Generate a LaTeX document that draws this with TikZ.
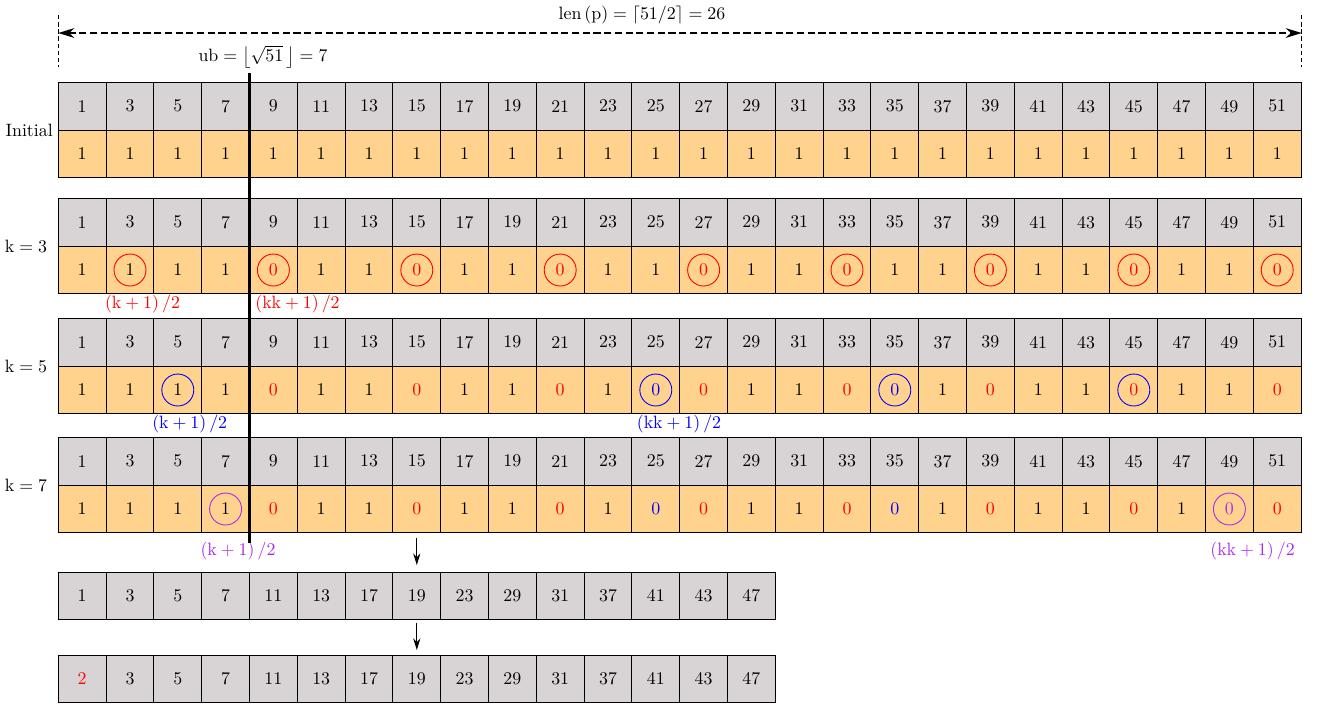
\documentclass[tikz,border=0pt]{standalone}
\usetikzlibrary{arrows.meta}
\definecolor{cellgray}{RGB}{216,211,212}
\definecolor{cellorange}{RGB}{255,211,142}
\definecolor{kpurple}{RGB}{170,40,240}
\begin{document}
\begin{tikzpicture}[x=0.56pt,y=-0.56pt,
  cell/.style={draw=black,line width=0.5pt,minimum width=26.77pt,minimum height=26.77pt,inner sep=0pt,outer sep=0pt,anchor=center},
  graycell/.style={cell,fill=cellgray},
  orangecell/.style={cell,fill=cellorange},
  ring/.style={circle,draw=#1,minimum size=17.9pt,inner sep=0pt,line width=0.5pt},
  rowlabel/.style={inner sep=0pt,anchor=center},
  dimtick/.style={line width=0.4pt,dash pattern=on 2.5pt off 1.5pt},
  dimline/.style={line width=0.8pt,dash pattern=on 4pt off 2pt,{Stealth[length=9pt,width=5.5pt]}-{Stealth[length=9pt,width=5.5pt]}},
  arr/.style={line width=0.7pt,-{Stealth[length=6.5pt,width=4pt]}},
  ubline/.style={line width=1.7pt}]
\useasboundingbox (0,0) rectangle (1322,718);

% dimension line
\coordinate (dl1) at (58.3,15);
\coordinate (dl2) at (58.3,67);
\coordinate (dr1) at (1301.7,15);
\coordinate (dr2) at (1301.7,67);
\coordinate (da) at (58.3,33);
\coordinate (db) at (1301.7,33);
\draw[dimtick] (dl1) -- (dl2);
\draw[dimtick] (dr1) -- (dr2);
\draw[dimline] (da) -- (db);
\node[rowlabel] (lenlab) at (642,15.5) {$\mathrm{len}\left(\mathrm{p}\right)=\left\lceil 51/2\right\rceil=26$};
\node[rowlabel] (ublab) at (263,57) {$\mathrm{ub}=\left\lfloor\sqrt{51}\,\right\rfloor=7$};

% gray rows
\foreach \yy/\r in {106.2/1,222.2/2,342.2/3,461.2/4}{
  \foreach \v [count=\i from 0] in {1,3,...,51}{
    \node[graycell] (g\r-\i) at ({58.3+47.8*(\i+0.5)},\yy) {\v};
  }
}

% orange rows
\foreach \v/\c [count=\i from 0] in {1/black,1/black,1/black,1/black,1/black,1/black,1/black,1/black,1/black,1/black,1/black,1/black,1/black,1/black,1/black,1/black,1/black,1/black,1/black,1/black,1/black,1/black,1/black,1/black,1/black,1/black}{
  \node[orangecell,text=\c] (o1-\i) at ({58.3+47.8*(\i+0.5)},154) {\v};
}
\foreach \v/\c [count=\i from 0] in {1/black,1/black,1/black,1/black,0/red,1/black,1/black,0/red,1/black,1/black,0/red,1/black,1/black,0/red,1/black,1/black,0/red,1/black,1/black,0/red,1/black,1/black,0/red,1/black,1/black,0/red}{
  \node[orangecell,text=\c] (o2-\i) at ({58.3+47.8*(\i+0.5)},270) {\v};
}
\foreach \v/\c [count=\i from 0] in {1/black,1/black,1/black,1/black,0/red,1/black,1/black,0/red,1/black,1/black,0/red,1/black,0/blue,0/red,1/black,1/black,0/red,0/blue,1/black,0/red,1/black,1/black,0/red,1/black,1/black,0/red}{
  \node[orangecell,text=\c] (o3-\i) at ({58.3+47.8*(\i+0.5)},390) {\v};
}
\foreach \v/\c [count=\i from 0] in {1/black,1/black,1/black,1/black,0/red,1/black,1/black,0/red,1/black,1/black,0/red,1/black,0/blue,0/red,1/black,1/black,0/red,0/blue,1/black,0/red,1/black,1/black,0/red,1/black,0/kpurple,0/red}{
  \node[orangecell,text=\c] (o4-\i) at ({58.3+47.8*(\i+0.5)},509) {\v};
}

% circles
\foreach \i in {1,4,7,10,13,16,19,22,25}{ \node[ring=red] (c2-\i) at (o2-\i) {}; }
\foreach \i in {2,12,17,22}{ \node[ring=blue] (c3-\i) at (o3-\i) {}; }
\foreach \i in {3,24}{ \node[ring=kpurple] (c4-\i) at (o4-\i) {}; }

% row labels
\node[rowlabel] (lab1) at (29.2,130) {Initial};
\node[rowlabel] (lab2) at (26,246.5) {$\mathrm{k}=3$};
\node[rowlabel] (lab3) at (26,366) {$\mathrm{k}=5$};
\node[rowlabel] (lab4) at (26,485) {$\mathrm{k}=7$};

% index labels
\node[rowlabel,text=red] (k2a) at (142.5,304.5) {$\left(\mathrm{k}+1\right)/2$};
\node[rowlabel,text=red] (k2b) at (297.5,304.5) {$\left(\mathrm{kk}+1\right)/2$};
\node[rowlabel,text=blue] (k3a) at (189.7,424.5) {$\left(\mathrm{k}+1\right)/2$};
\node[rowlabel,text=blue] (k3b) at (679,424.5) {$\left(\mathrm{kk}+1\right)/2$};
\node[rowlabel,text=kpurple] (k4a) at (238,551.5) {$\left(\mathrm{k}+1\right)/2$};
\node[rowlabel,text=kpurple] (k4b) at (1252.5,551.5) {$\left(\mathrm{kk}+1\right)/2$};

% ub line
\coordinate (ubtop) at (249.3,73);
\coordinate (ubbot) at (249.3,543);
\draw[ubline] (ubtop) -- (ubbot);

% result rows
\foreach \v [count=\i from 0] in {1,3,5,7,11,13,17,19,23,29,31,37,41,43,47}{
  \node[graycell] (r1-\i) at ({58.3+47.8*(\i+0.5)},595.9) {\v};
}
\foreach \v/\c [count=\i from 0] in {2/red,3/black,5/black,7/black,11/black,13/black,17/black,19/black,23/black,29/black,31/black,37/black,41/black,43/black,47/black}{
  \node[graycell,text=\c] (r2-\i) at ({58.3+47.8*(\i+0.5)},678.9) {\v};
}

% arrows
\draw[arr,shorten <=2.8pt,shorten >=3.9pt] (o4-7) -- (r1-7);
\draw[arr,shorten <=1.7pt,shorten >=2.8pt] (r1-7) -- (r2-7);
\end{tikzpicture}
\end{document}
